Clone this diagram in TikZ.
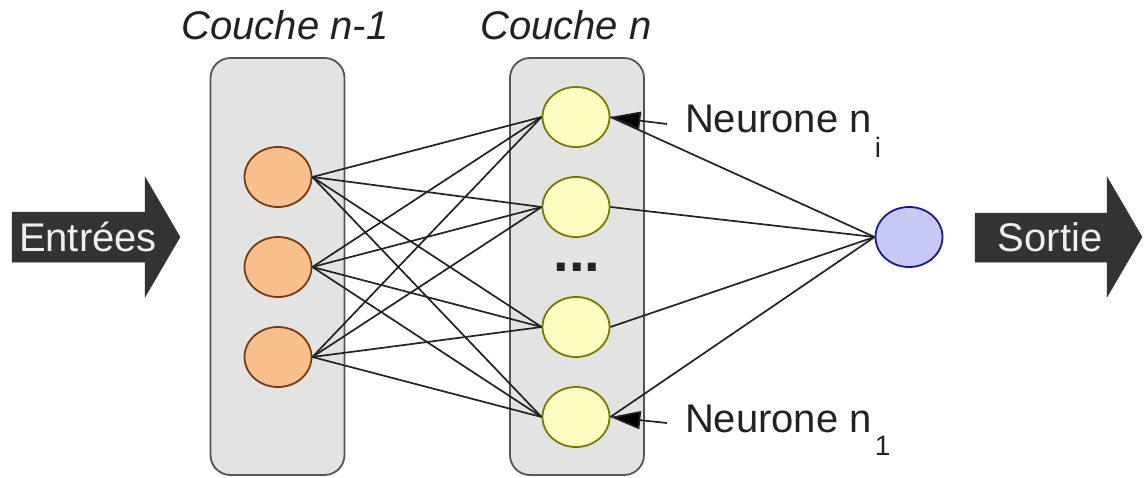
\documentclass[tikz,border=0pt]{standalone}
\usepackage{fontspec}
\setmainfont{Liberation Sans}
\usetikzlibrary{shapes.geometric,arrows.meta}
\definecolor{boxfill}{HTML}{E3E3E3}
\definecolor{boxline}{HTML}{555555}
\definecolor{orfill}{HTML}{F9C08E}
\definecolor{orline}{HTML}{7A3A10}
\definecolor{yefill}{HTML}{FFFFC4}
\definecolor{yeline}{HTML}{7A7A00}
\definecolor{blfill}{HTML}{C8C8F4}
\definecolor{blline}{HTML}{1A1A8A}
\definecolor{arrfill}{HTML}{333333}
\definecolor{txt}{HTML}{222222}
\newcommand\bigfont{\fontsize{40}{44}\selectfont}
\newcommand\subfont{\fontsize{28}{30}\selectfont}
\tikzset{
  layerbox/.style={draw=boxline, line width=1.8pt, fill=boxfill, rounded corners=20pt, minimum width=134pt, minimum height=417pt, inner sep=0pt},
  neuron/.style={ellipse, minimum width=67pt, minimum height=60pt, inner sep=0pt, line width=1.8pt},
  orn/.style={neuron, draw=orline, fill=orfill},
  yen/.style={neuron, draw=yeline, fill=yefill},
  bln/.style={neuron, draw=blline, fill=blfill},
  conn/.style={draw=txt, line width=1.7pt},
  lbl/.style={inner sep=0pt, outer sep=0pt, text=txt, font=\bigfont},
  ptr/.style={draw=txt, line width=1.7pt, -{Triangle[length=30pt, width=18pt, fill=black]}},
  bigarrow/.style={fill=arrfill, draw=arrfill, line width=0.5pt},
  arrtext/.style={inner sep=0pt, text=white!94!black, font=\bigfont}
}
\begin{document}
\begin{tikzpicture}[x=1pt, y=-1pt]
\useasboundingbox (0,0) rectangle (1144,477);

% input / output arrows
\draw[bigarrow] (12,212) -- (145,212) -- (145,177) -- (180,237) -- (145,297) -- (145,262) -- (12,262) -- cycle;
\node[arrtext] (entrees) at (88,237) {Entrées};
\draw[bigarrow] (975,213) -- (1107,213) -- (1107,177) -- (1142,237) -- (1107,297) -- (1107,262) -- (975,262) -- cycle;
\node[arrtext] (sortie) at (1050,237) {Sortie};

% layer boxes
\node[layerbox] (boxA) at (277.5,266.5) {};
\node[layerbox] (boxB) at (577,266.5) {};

% titles
\node[lbl, anchor=base, font=\bigfont\itshape] (titleA) at (285,39) {Couche n-1};
\node[lbl, anchor=base, font=\bigfont\itshape] (titleB) at (566,39) {Couche n};

% neurons
\node[orn] (a1) at (278,177) {};
\node[orn] (a2) at (278,267) {};
\node[orn] (a3) at (278,357) {};
\node[yen] (b1) at (576,117) {};
\node[yen] (b2) at (576,207) {};
\node[yen] (b3) at (576,327) {};
\node[yen] (b4) at (576,417) {};
\node[bln] (out) at (909,237) {};
\node[inner sep=0pt, text=txt, font=\fontsize{56}{56}\selectfont\bfseries, anchor=base] (dots) at (577,271) {...};

% connections
\foreach \a in {a1,a2,a3}{
  \foreach \b in {b1,b2,b3,b4}{
    \draw[conn] (\a.east) -- (\b.west);
  }
}
\foreach \b in {b1,b2,b3,b4}{
  \draw[conn] (\b.east) -- (out.west);
}

% neuron labels
\node[lbl, anchor=base west] (ni) at (685,132) {Neurone n\kern3pt\raisebox{-25pt}{\subfont i}};
\node[lbl, anchor=base west] (n1) at (685,432) {Neurone n\kern3pt\raisebox{-23pt}{\subfont 1}};
\coordinate (pi) at (667,124);
\coordinate (p1) at (667,423);
\draw[ptr] (pi) -- (b1.east);
\draw[ptr] (p1) -- (b4.east);
\end{tikzpicture}
\end{document}
